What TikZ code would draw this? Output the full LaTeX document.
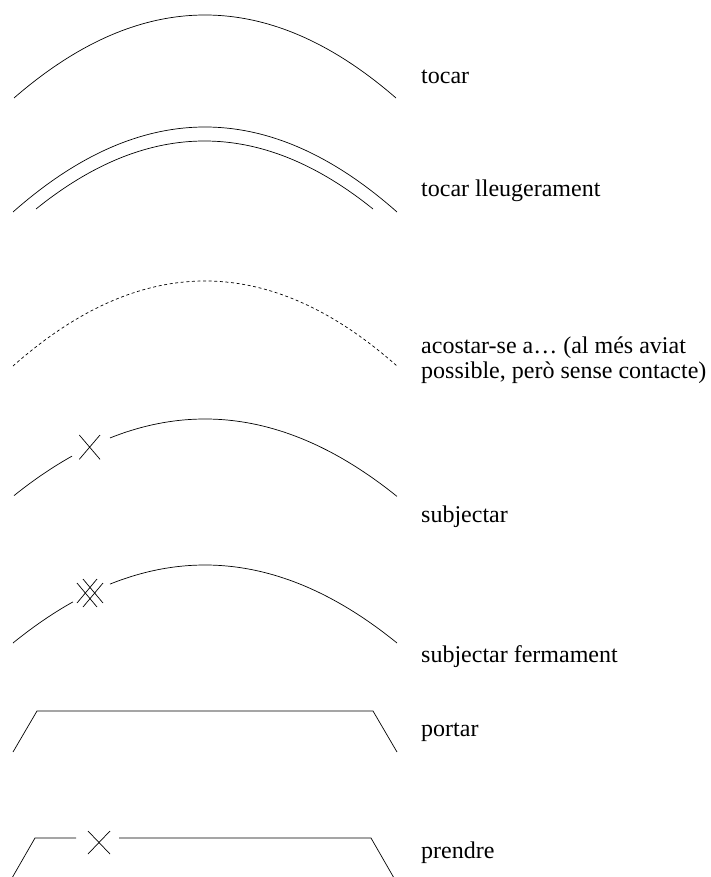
\documentclass[tikz,border=0pt]{standalone}
\usepackage{fontspec}
\setmainfont{Liberation Serif}
\begin{document}
\begin{tikzpicture}[x=1pt,y=-1pt,
  ln/.style={line width=0.7pt, line join=miter},
  dsh/.style={line width=0.7pt, dash pattern=on 3pt off 2.6pt},
  lbl/.style={anchor=base west, inner sep=0pt, font=\fontsize{24}{25}\selectfont}]
\useasboundingbox (0,0) rectangle (710,877);

% 1 tocar
\draw[ln] plot[domain=14:396, samples=90] (\x, {15+83*((\x-205)/191)*((\x-205)/191)});
\node[lbl] (l1) at (421,84) {tocar};

% 2 tocar lleugerament
\draw[ln] plot[domain=13:397, samples=90] (\x, {127+85*((\x-205)/192)*((\x-205)/192)});
\draw[ln] plot[domain=36:373, samples=90] (\x, {141+68*((\x-204.5)/168.5)*((\x-204.5)/168.5)});
\node[lbl] (l2) at (421,197) {tocar lleugerament};

% 3 acostar-se
\draw[dsh] plot[domain=13:397, samples=90] (\x, {281+85*((\x-205)/192)*((\x-205)/192)});
\node[lbl] (l3a) at (421,353) {acostar-se a… (al més aviat};
\node[lbl] (l3b) at (421,378) {possible, però sense contacte)};

% 4 subjectar
\draw[ln] plot[domain=14:72, samples=30] (\x, {419+77*((\x-205)/191.5)*((\x-205)/191.5)});
\draw[ln] plot[domain=110:397, samples=80] (\x, {419+77*((\x-205)/191.5)*((\x-205)/191.5)});
\draw[ln] (79.3,435) -- (100,459.3) (100,435) -- (79.3,459.3);
\node[lbl] (l4) at (421,522) {subjectar};

% 5 subjectar fermament
\draw[ln] plot[domain=13:73, samples=30] (\x, {565+78*((\x-205)/192)*((\x-205)/192)});
\draw[ln] plot[domain=110:397, samples=80] (\x, {565+78*((\x-205)/192)*((\x-205)/192)});
\begin{scope}[shift={(90,593)}]
  \draw[ln] (-13,-10) -- (7,14) (-7,-14) -- (13,10);
  \draw[ln] (13,-10) -- (-7,14) (7,-14) -- (-13,10);
\end{scope}
\node[lbl] (l5) at (421,662) {subjectar fermament};

% 6 portar
\draw[ln] (13,752) -- (37,711) -- (373,711) -- (397,752);
\node[lbl] (l6) at (421,736) {portar};

% 7 prendre
\draw[ln] (12,878) -- (35,838) -- (76,838);
\draw[ln] (119,838) -- (371,838) -- (394,878);
\draw[ln] (88,831) -- (110,854) (110,831) -- (88,854);
\node[lbl] (l7) at (421,858) {prendre};
\end{tikzpicture}
\end{document}
